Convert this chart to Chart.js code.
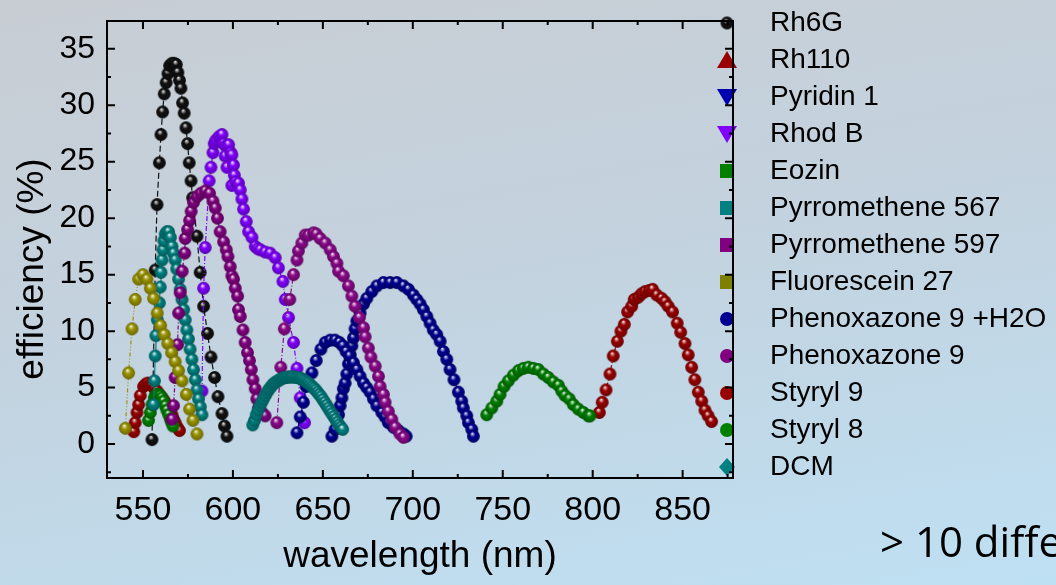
<!DOCTYPE html>
<html>
<head>
<meta charset="utf-8">
<script src="https://cdn.jsdelivr.net/npm/chart.js@4.4.1/dist/chart.umd.min.js"></script>
<style>
    html, body { margin: 0; padding: 0; width: 1056px; height: 585px; overflow: hidden; }
    body {
        position: relative;
        background: linear-gradient(170deg, #c8cdd3 0%, #c3d3e0 50%, #bee0f3 100%);
    }
    #wrap { position: absolute; left: 0; top: 0; width: 1056px; height: 585px; }
    #note {
        position: absolute; left: 880px; top: 512px;
        font-family: 'Open Sans', sans-serif; font-size: 42px;
        white-space: nowrap; color: #000;
    }
</style>
</head>
<body>
<div id="wrap"><canvas id="chart" width="1056" height="585"></canvas></div>
<div id="note">&gt; 10 different</div>
<script>
(function () {
    const FONT = '"Liberation Sans", Arial, sans-serif';

    const seriesNames = ['Rh6G', 'Rh110', 'Pyridin 1', 'Rhod B', 'Eozin', 'Pyrromethene 567',
        'Pyrromethene 597', 'Fluorescein 27', 'Phenoxazone 9 +H2O', 'Phenoxazone 9',
        'Styryl 9', 'Styryl 8', 'DCM'];

    const xTicks = [550, 600, 650, 700, 750, 800, 850];
    const xMinor = [575, 625, 675, 725, 775, 825, 875];
    const yTicks = [0, 5, 10, 15, 20, 25, 30, 35];
    const yMinor = [-2.5, 2.5, 7.5, 12.5, 17.5, 22.5, 27.5, 32.5];

    // [wavelength nm, efficiency %]
    const rh6g = [[555.0,0.4],[556.8,15.4],[557.8,21.2],[559.1,24.9],[560.0,27.4],[560.9,29.4],
        [561.8,31.0],[562.9,32.0],[563.9,32.8],[564.8,33.5],[566.1,33.7],[567.4,33.7],[568.5,33.6],
        [569.4,32.9],[570.3,32.2],[571.1,31.5],[572.0,30.2],[572.9,29.3],[573.9,28.0],[574.8,26.6],
        [575.7,24.9],[576.7,23.3],[577.6,21.8],[580.0,18.4],[581.8,15.2],[583.7,12.2],[585.9,9.8],
        [587.8,7.7],[589.8,5.9],[591.7,4.2],[593.9,2.7],[595.3,1.6],[596.7,0.7]];
    const rh110 = [[544.9,1.1],[545.7,1.9],[546.7,2.8],[547.6,3.5],[548.5,4.3],[550.3,5.1],[551.5,5.3],
        [552.7,5.4],[554.0,5.3],[555.0,5.2],[556.4,4.9],[557.8,4.7],[559.2,4.4],[560.6,4.1],[562.0,3.8],
        [563.3,3.4],[564.7,3.0],[566.1,2.6],[567.0,2.2],[567.9,1.9],[569.1,1.5],[570.3,1.2]];
    const pyridin1 = [[655.0,0.7],[656.8,1.3],[658.7,2.6],[659.6,3.4],[660.6,4.1],[661.4,4.9],[662.4,5.4],
        [663.3,6.2],[664.2,7.1],[665.2,7.9],[666.1,8.7],[667.0,9.4],[667.9,10.2],[668.9,10.9],[670.7,11.6],
        [672.6,12.4],[674.4,12.9],[677.2,13.5],[680.0,14.0],[683.7,14.3],[687.4,14.3],[691.1,14.3],
        [694.8,14.0],[697.6,13.7],[700.3,13.2],[702.2,12.8],[704.1,12.4],[705.9,11.9],[707.8,11.3],
        [709.6,10.7],[711.4,10.1],[713.3,9.7],[715.2,9.1],[717.0,8.2],[718.9,7.5],[720.7,6.6],[722.9,5.7],
        [725.3,4.6],[727.2,3.8],[728.1,3.2],[730.0,2.5],[730.9,1.9],[732.8,1.3],[733.7,0.7]];
    const rhodB = [[582.8,4.7],[583.7,13.8],[584.6,17.4],[586.8,23.3],[587.8,24.5],[588.9,25.8],
        [589.6,26.6],[590.5,26.9],[592.2,27.2],[593.9,27.4],[594.8,26.6],[596.0,26.4],[597.6,26.5],
        [595.7,25.5],[596.7,24.5],[598.8,25.8],[599.4,25.6],[600.3,24.7],[600.8,23.8],[599.4,22.9],
        [601.5,23.2],[603.1,23.1],[604.1,22.5],[605.0,21.7],[605.9,20.8],[607.4,19.7],[608.7,18.8],
        [610.6,18.3],[612.4,17.5],[613.8,17.3],[615.2,17.2],[617.9,17.0],[620.7,16.9],[623.5,16.5],
        [625.3,15.6],[627.8,14.4],[629.1,12.8],[630.9,11.2],[633.7,9.0],[635.6,6.7],[637.4,4.1],[639.8,1.9]];
    const eozin = [[553.1,2.1],[554.1,2.8],[555.0,3.5],[556.3,4.1],[557.0,4.3],[557.8,4.4],[558.7,4.4],
        [559.6,4.3],[560.5,4.1],[561.4,3.8],[562.4,3.4],[563.3,3.0],[564.3,2.6],[565.2,2.2],[566.0,1.9],
        [566.7,1.6]];
    const pyr567 = [[555.9,3.5],[556.4,5.6],[556.8,7.8],[557.2,9.6],[558.0,11.0],[559.1,12.5],[559.6,13.9],
        [560.0,15.2],[560.6,16.3],[561.1,17.2],[561.6,18.0],[562.4,18.6],[563.3,18.8],[564.2,18.8],
        [565.2,18.3],[566.1,17.5],[567.0,16.9],[567.9,16.3],[568.8,15.5],[569.8,14.6],[570.7,13.7],
        [571.7,12.8],[572.6,11.9],[573.5,11.0],[574.4,10.1],[575.3,9.3],[576.2,8.4],[577.2,7.5],
        [578.1,6.6],[579.1,5.7],[580.0,4.8],[580.9,4.0],[581.9,3.3],[582.8,2.6]];
    const pyr597 = [[566.1,2.2],[567.0,3.4],[567.9,5.9],[569.2,8.8],[569.8,11.6],[570.7,13.4],[571.8,15.3],
        [573.2,16.9],[573.5,18.2],[574.8,19.0],[575.9,19.8],[576.8,20.6],[578.1,21.4],[580.0,21.9],
        [582.2,22.2],[584.6,22.4],[587.0,22.2],[588.9,21.5],[590.2,20.9],[591.4,20.0],[592.9,18.8],
        [594.8,17.9],[596.3,17.2],[597.2,16.6],[598.5,15.7],[599.4,14.9],[600.3,14.6],[601.3,13.8],
        [602.6,13.1],[603.1,11.9],[604.1,11.3],[605.6,10.1],[606.8,9.0],[608.1,8.1],[609.2,7.4],
        [610.2,6.6],[611.1,5.7],[612.4,4.9],[613.3,4.0],[614.2,3.2],[616.1,2.8],[617.9,2.5]];
    const fluor27 = [[540.2,1.4],[542.0,6.3],[543.9,10.2],[545.7,12.8],[547.6,14.6],[550.0,15.0],
        [552.2,14.6],[554.1,13.8],[555.9,12.9],[557.9,11.6],[559.8,10.5],[561.8,9.7],[563.8,8.9],
        [565.9,8.1],[567.9,7.3],[569.8,6.5],[571.7,5.6],[574.1,4.4],[575.9,3.1],[577.8,2.1],[580.0,0.9]];
    const phenH2O = [[635.6,1.0],[637.4,2.4],[639.2,3.7],[640.7,5.1],[643.9,6.3],[646.3,7.4],[648.9,8.4],
        [651.3,9.0],[654.1,9.2],[656.8,9.2],[659.2,9.0],[661.1,8.7],[662.9,8.2],[664.8,7.8],[667.0,7.2],
        [668.9,6.6],[670.7,6.0],[672.6,5.4],[674.4,5.0],[676.3,4.6],[678.1,4.0],[680.0,3.4],[682.8,2.8],
        [684.6,2.4],[686.4,1.9],[689.2,1.5],[692.0,1.2],[694.8,0.9],[696.3,0.7]];
    const phen9 = [[624.4,1.9],[626.6,6.8],[628.6,10.2],[631.6,12.8],[633.7,15.0],[635.6,16.3],[636.4,17.1],
        [638.3,17.8],[640.2,18.5],[642.0,18.5],[644.8,18.7],[646.3,18.6],[648.5,18.2],[651.3,17.8],
        [654.1,17.2],[655.9,16.6],[657.8,16.0],[658.7,15.3],[661.4,14.9],[664.2,14.0],[666.1,13.1],
        [667.9,12.2],[670.3,11.2],[672.6,10.3],[673.5,9.5],[675.3,8.5],[676.7,7.7],[679.1,6.9],[680.9,6.0],
        [681.8,5.1],[683.7,4.4],[684.6,3.7],[686.4,2.9],[688.3,2.2],[690.2,1.5],[692.9,0.9],[694.8,0.6]];
    const styryl9 = [[803.7,2.8],[805.3,3.7],[807.4,4.8],[809.6,6.2],[811.4,7.8],[813.7,9.1],[815.7,10.0],
        [817.6,10.6],[819.4,11.7],[821.7,12.2],[823.1,12.8],[825.3,13.0],[827.2,13.3],[829.1,13.5],
        [831.4,13.6],[833.3,13.7],[835.6,13.2],[838.3,12.9],[840.2,12.6],[842.0,12.2],[844.4,11.7],
        [847.0,10.7],[848.9,9.9],[851.3,8.9],[853.1,7.9],[855.0,6.8],[856.8,5.7],[858.7,4.6],[860.6,3.8],
        [862.4,3.0],[864.2,2.5],[866.1,2.0]];
    const styryl8 = [[741.1,2.6],[743.9,3.2],[746.7,3.8],[748.5,4.4],[750.7,5.1],[753.1,5.6],[755.9,6.1],
        [758.7,6.5],[761.4,6.7],[764.2,6.8],[767.0,6.7],[769.8,6.6],[772.6,6.2],[775.3,5.9],[778.1,5.5],
        [780.9,5.2],[782.8,4.7],[784.6,4.3],[787.0,4.0],[789.2,3.5],[792.0,3.1],[794.8,2.8],[797.6,2.5],
        [798.5,2.5]];
    const dcm = [[611,1.7],[612,2.1],[613,2.6],[614,3.0],[615,3.4],[616,3.7],[617,4.0],[618,4.3],[619,4.6],
        [620,4.85],[621,5.05],[622,5.25],[623,5.4],[624,5.5],[625,5.6],[626,5.7],[627,5.8],[628,5.85],
        [629,5.9],[630,5.9],[631,5.95],[632,5.95],[633,5.95],[634,5.95],[635,5.9],[636,5.9],[637,5.85],
        [638,5.8],[639,5.7],[640,5.6],[641,5.5],[642,5.4],[643,5.25],[644,5.1],[645,4.95],[646,4.8],
        [647,4.6],[648,4.4],[649,4.2],[650,3.95],[651,3.7],[652,3.45],[653,3.2],[654,2.95],[655,2.7],
        [656,2.45],[657,2.2],[658,1.95],[659,1.7],[660,1.5],[661,1.3]];

    const seriesData = [rh6g, rh110, pyridin1, rhodB, eozin, pyr567, pyr597, fluor27, phenH2O, phen9,
        styryl9, styryl8, dcm];
    const ballColors = ['#111111', '#990000', '#000090', '#8000ff', '#008000', '#008080', '#800080',
        '#9a9400', '#000090', '#8b0a8b', '#990000', '#008000', '#008080'];
    const markerColors = ['#111111', '#990000', '#0000b0', '#8000ff', '#008000', '#008080', '#800080',
        '#808000', '#000090', '#800080', '#990000', '#008000', '#008080'];
    const legendMarkers = ['ball', 'up', 'down', 'down', 'square', 'square', 'square', 'square',
        'circle', 'circle', 'circle', 'circle', 'diamond'];
    const dashes = [[6, 3], [4, 2, 1, 2], [], [5, 2, 1, 2], [], [], [4, 2, 1, 2], [4, 2, 1, 2, 1, 2],
        [], [5, 2, 1, 2], [4, 2, 1, 2], [], []];

    function mix(hex, other, t) {
        const a = parseInt(hex.slice(1), 16), b = parseInt(other.slice(1), 16);
        const ch = (v, s) => (v >> s) & 255;
        const m = s => Math.round(ch(a, s) * (1 - t) + ch(b, s) * t);
        return 'rgb(' + m(16) + ',' + m(8) + ',' + m(0) + ')';
    }

    function makeBall(color, r) {
        const c = document.createElement('canvas');
        const s = Math.ceil(r * 2 + 2);
        c.width = s; c.height = s;
        const g = c.getContext('2d');
        const cx = s / 2, cy = s / 2;
        const grad = g.createRadialGradient(cx - r * 0.2, cy - r * 0.45, 0, cx, cy, r);
        grad.addColorStop(0, '#ffffff');
        grad.addColorStop(0.16, mix(color, '#ffffff', 0.6));
        grad.addColorStop(0.42, color);
        grad.addColorStop(1, mix(color, '#000000', 0.3));
        g.fillStyle = grad;
        g.beginPath();
        g.arc(cx, cy, r, 0, Math.PI * 2);
        g.fill();
        return c;
    }

    const balls = ballColors.map(c => makeBall(c, 6.4));

    const datasets = seriesData.map((pts, i) => ({
        label: seriesNames[i],
        data: pts.map(p => ({ x: p[0], y: p[1] })),
        showLine: true,
        borderColor: ballColors[i],
        borderWidth: 1.2,
        borderDash: dashes[i],
        pointStyle: balls[i],
        pointRadius: 6,
        order: seriesNames.length - i
    }));

    function drawMarker(ctx, type, x, y, color, i) {
        ctx.fillStyle = color;
        ctx.beginPath();
        if (type === 'ball') {
            ctx.drawImage(balls[i], x - balls[i].width / 2, y - balls[i].height / 2);
            return;
        } else if (type === 'up') {
            ctx.moveTo(x, y - 9); ctx.lineTo(x + 10, y + 8); ctx.lineTo(x - 10, y + 8);
        } else if (type === 'down') {
            ctx.moveTo(x - 10, y - 8); ctx.lineTo(x + 10, y - 8); ctx.lineTo(x, y + 9);
        } else if (type === 'square') {
            ctx.rect(x - 7, y - 7, 14, 14);
        } else if (type === 'circle') {
            ctx.arc(x, y, 7, 0, Math.PI * 2);
        } else if (type === 'diamond') {
            ctx.moveTo(x, y - 9); ctx.lineTo(x + 8, y); ctx.lineTo(x, y + 9); ctx.lineTo(x - 8, y);
        }
        ctx.closePath();
        ctx.fill();
    }

    const framePlugin = {
        id: 'frame',
        afterDatasetsDraw(chart) {
            const { ctx, chartArea: a, scales: { x, y } } = chart;
            ctx.save();

            // legend
            ctx.font = '28px ' + FONT;
            ctx.textAlign = 'left';
            ctx.textBaseline = 'middle';
            seriesNames.forEach((name, i) => {
                const ry = 23 + i * 37;
                drawMarker(ctx, legendMarkers[i], 727, ry, markerColors[i], i);
                ctx.fillStyle = '#000';
                ctx.fillText(name, 770, ry);
            });

            // frame and inward ticks
            ctx.strokeStyle = '#000';
            ctx.lineWidth = 2;
            ctx.strokeRect(a.left, a.top, a.right - a.left, a.bottom - a.top);
            ctx.beginPath();
            const xt = (v, len) => {
                const px = x.getPixelForValue(v);
                ctx.moveTo(px, a.bottom); ctx.lineTo(px, a.bottom - len);
                ctx.moveTo(px, a.top); ctx.lineTo(px, a.top + len);
            };
            const yt = (v, len) => {
                const py = y.getPixelForValue(v);
                ctx.moveTo(a.left, py); ctx.lineTo(a.left + len, py);
                ctx.moveTo(a.right, py); ctx.lineTo(a.right - len, py);
            };
            xTicks.forEach(v => xt(v, 8));
            xMinor.forEach(v => xt(v, 4));
            yTicks.forEach(v => yt(v, 8));
            yMinor.forEach(v => yt(v, 4));
            ctx.stroke();

            // axis titles
            ctx.fillStyle = '#000';
            ctx.font = '37px ' + FONT;
            ctx.textAlign = 'center';
            ctx.textBaseline = 'middle';
            ctx.fillText('wavelength (nm)', (a.left + a.right) / 2, 557);
            ctx.translate(33, 269);
            ctx.rotate(-Math.PI / 2);
            ctx.fillText('efficiency (%)', 0, 0);
            ctx.restore();
        }
    };

    new Chart(document.getElementById('chart'), {
        type: 'scatter',
        data: { datasets: datasets },
        options: {
            responsive: false,
            animation: false,
            events: [],
            layout: { padding: { left: 0, top: 21, right: 323, bottom: 0 } },
            plugins: { legend: { display: false }, tooltip: { enabled: false } },
            scales: {
                x: {
                    type: 'linear',
                    min: 530,
                    max: 878,
                    afterFit: s => { s.height = 107; s.paddingLeft = 0; s.paddingRight = 0; },
                    afterBuildTicks: s => { s.ticks = xTicks.map(v => ({ value: v })); },
                    grid: { display: false, drawTicks: false },
                    border: { display: false },
                    ticks: { padding: 12, color: '#000', autoSkip: false, maxRotation: 0,
                        font: { size: 34, family: FONT } }
                },
                y: {
                    type: 'linear',
                    min: -3,
                    max: 37.45,
                    afterFit: s => { s.width = 107; s.paddingTop = 0; s.paddingBottom = 0; },
                    afterBuildTicks: s => { s.ticks = yTicks.map(v => ({ value: v })); },
                    grid: { display: false, drawTicks: false },
                    border: { display: false },
                    ticks: { padding: 12, color: '#000', autoSkip: false,
                        font: { size: 32, family: FONT } }
                }
            }
        },
        plugins: [framePlugin]
    });
})();
</script>
</body>
</html>
